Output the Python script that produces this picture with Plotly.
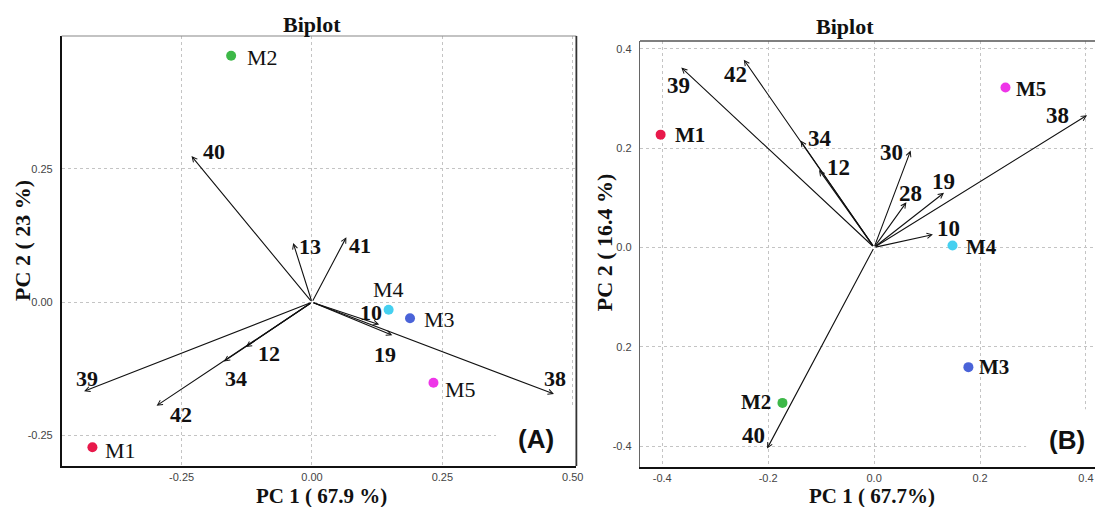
import plotly.graph_objects as go

# ---------------- data ----------------
samples = ["M1", "M2", "M3", "M4", "M5"]
sample_colors = ["#E8194B", "#3DB848", "#4A63D8", "#45D0F0", "#EE35E8"]

# Panel A scores
a_pc1 = [-0.421, -0.155, 0.188, 0.147, 0.233]
a_pc2 = [-0.272, 0.462, -0.030, -0.014, -0.151]
# Panel A loadings
a_vars = ["40", "13", "41", "39", "12", "34", "42", "10", "19", "38"]
a_load1 = [-0.231, -0.036, 0.066, -0.437, -0.127, -0.169, -0.298, 0.129, 0.154, 0.464]
a_load2 = [0.274, 0.111, 0.122, -0.167, -0.084, -0.111, -0.194, -0.042, -0.062, -0.172]

# Panel B scores
b_pc1 = [-0.403, -0.173, 0.178, 0.148, 0.248]
b_pc2 = [0.227, -0.313, -0.241, 0.004, 0.322]
# Panel B loadings
b_vars = ["39", "42", "34", "12", "30", "28", "19", "38", "10", "40"]
b_load1 = [-0.364, -0.246, -0.139, -0.104, 0.069, 0.061, 0.132, 0.402, 0.111, -0.202]
b_load2 = [0.362, 0.378, 0.215, 0.156, 0.195, 0.091, 0.110, 0.266, 0.026, -0.405]

a_xticks = [-0.25, 0.0, 0.25, 0.5]
a_xticktext = ["-0.25", "0.00", "0.25", "0.50"]
a_yticks = [-0.25, 0.0, 0.25]
a_yticktext = ["-0.25", "0.00", "0.25"]
b_xticks = [-0.4, -0.2, 0.0, 0.2, 0.4]
b_xticktext = ["-0.4", "-0.2", "0.0", "0.2", "0.4"]
b_yticks = [-0.4, -0.2, 0.0, 0.2, 0.4]
b_yticktext = ["-0.4", "0.2", "0.0", "0.2", "0.4"]

# ---------------- label placement (pixel shifts) ----------------
a_var_shift = {"40": (22, 5), "13": (17, -4), "41": (14, -8), "39": (3, 13), "12": (23, -6),
               "34": (12, -17), "42": (24, -9), "10": (-8, 12), "19": (-7, -19), "38": (1, 15)}
a_sample_lab = {"M1": (11, -3, "left"), "M2": (14, -2, "left"), "M3": (12, -1, "left"),
                "M4": (0, 20, "center"), "M5": (10, -7, "left")}
b_var_shift = {"39": (-3, -18), "42": (-8, -15), "34": (20, 2), "12": (19, 2), "30": (-19, -2),
               "28": (4, 9), "19": (-1, 11), "38": (-30, 0), "10": (16, 6), "40": (-14, 13)}
b_sample_lab = {"M1": (12, 0, "left"), "M2": (-9, 1, "right"), "M3": (9, 0, "left"),
                "M4": (11, -2, "left"), "M5": (9, -2, "left")}

SERIF = "Liberation Serif, Times New Roman, serif"
SANS = "Liberation Sans, Arial, sans-serif"
W, H = 1103, 507
OFF = 8  # page body margin compensation


def px(x):
    return (x - OFF) / W


def py(y):
    return 1 - (y - OFF) / H


fig = go.Figure()
fig.add_trace(go.Scatter(x=a_pc1, y=a_pc2, mode="markers", xaxis="x", yaxis="y",
                         marker=dict(color=sample_colors, size=10), showlegend=False, hoverinfo="skip"))
fig.add_trace(go.Scatter(x=b_pc1, y=b_pc2, mode="markers", xaxis="x2", yaxis="y2",
                         marker=dict(color=sample_colors, size=10), showlegend=False, hoverinfo="skip"))

ann = []


def add_panel(xr, yr, vars_, l1, l2, vshift, pc1, pc2, slab, num_size, sample_font):
    for v, x, y in zip(vars_, l1, l2):
        ann.append(dict(x=x, y=y, xref=xr, yref=yr, ax=0, ay=0, axref=xr, ayref=yr,
                        showarrow=True, arrowhead=5, arrowsize=0.9, arrowwidth=1.1,
                        arrowcolor="#111", standoff=0, text=""))
        dx, dy = vshift[v]
        ann.append(dict(x=x, y=y, xref=xr, yref=yr, showarrow=False, text=v,
                        xshift=dx, yshift=dy, xanchor="center", yanchor="middle",
                        font=dict(family=SERIF, size=num_size, color="#111", weight="bold")))
    for s, x, y in zip(samples, pc1, pc2):
        dx, dy, anc = slab[s]
        ann.append(dict(x=x, y=y, xref=xr, yref=yr, showarrow=False, text=s,
                        xshift=dx, yshift=dy, xanchor=anc, yanchor="middle", font=sample_font))


add_panel("x", "y", a_vars, a_load1, a_load2, a_var_shift, a_pc1, a_pc2, a_sample_lab, 22,
          dict(family=SERIF, size=22, color="#111"))
add_panel("x2", "y2", b_vars, b_load1, b_load2, b_var_shift, b_pc1, b_pc2, b_sample_lab, 23,
          dict(family=SERIF, size=21, color="#111", weight="bold"))

title_font = dict(family=SERIF, size=22, color="#111", weight="bold")
axt_font = dict(family=SERIF, size=22, color="#111", weight="bold")
C = dict(xref="paper", yref="paper", showarrow=False, xanchor="center", yanchor="middle")
ann += [
    dict(x=px(314), y=py(25), text="Biplot", font=title_font, **C),
    dict(x=px(850), y=py(27), text="Biplot", font=title_font, **C),
    dict(x=px(324), y=py(496), text="PC 1 ( 67.9 %)", font=dict(axt_font, size=21), **C),
    dict(x=px(878), y=py(496), text="PC 1 ( 67.7%)", font=dict(axt_font, size=21), **C),
    dict(x=px(22), y=py(240), text="PC 2 ( 23 %)", textangle=-90, font=axt_font, **C),
    dict(x=px(609), y=py(243), text="PC 2 ( 16.4 %)", textangle=-90, font=axt_font, **C),
    dict(x=0.43, y=-0.256, xref="x", yref="y", text="(A)", showarrow=False,
         font=dict(family=SANS, size=26, color="#111", weight="bold")),
    dict(x=0.364, y=-0.387, xref="x2", yref="y2", text="(B)", showarrow=False,
         font=dict(family=SANS, size=26, color="#111", weight="bold")),
]

tickfont = dict(family=SANS, size=11, color="#444")
grid = dict(showgrid=True, gridcolor="#c4c4c4", griddash="dot", gridwidth=1, zeroline=False,
            ticks="", tickfont=tickfont, showline=True,
            linecolor="#111", linewidth=1.5, fixedrange=True)

fig.update_layout(
    width=W, height=H, margin=dict(l=0, r=0, t=0, b=0),
    paper_bgcolor="white", plot_bgcolor="white", showlegend=False,
    xaxis=dict(domain=[px(62), px(580)], range=[-0.48, 0.507], anchor="y", ticklabelstandoff=0,
               tickvals=a_xticks, ticktext=a_xticktext, **grid),
    yaxis=dict(domain=[py(466), py(36)], range=[-0.307, 0.499], anchor="x", ticklabelstandoff=5,
               tickvals=a_yticks, ticktext=a_yticktext, **grid),
    xaxis2=dict(domain=[px(644), 1.0], range=[-0.442, 0.434], anchor="y2", ticklabelstandoff=0,
                tickvals=b_xticks, ticktext=b_xticktext, **grid),
    yaxis2=dict(domain=[py(467), py(41)], range=[-0.442, 0.4155], anchor="x2", ticklabelstandoff=5,
                tickvals=b_yticks, ticktext=b_yticktext, **grid),
    annotations=ann,
    shapes=[
        dict(type="rect", xref="x", yref="y", x0=0.353, x1=0.507, y0=-0.307, y1=-0.198,
             fillcolor="white", line=dict(width=0), layer="between"),
        dict(type="rect", xref="x2", yref="y2", x0=0.287, x1=0.434, y0=-0.442, y1=-0.326,
             fillcolor="white", line=dict(width=0), layer="between"),
        dict(type="line", xref="x domain", yref="y domain", x0=0, x1=1, y0=1, y1=1,
             line=dict(color="#888", width=1.2)),
        dict(type="line", xref="x domain", yref="y domain", x0=1, x1=1, y0=0, y1=1,
             line=dict(color="#333", width=1.8)),
        dict(type="line", xref="x2 domain", yref="y2 domain", x0=0, x1=1, y0=1, y1=1,
             line=dict(color="#555", width=1.5)),
    ],
)
fig.update_layout(yaxis2_linecolor="#666", yaxis2_linewidth=1.2)

fig.write_html("out.html")
